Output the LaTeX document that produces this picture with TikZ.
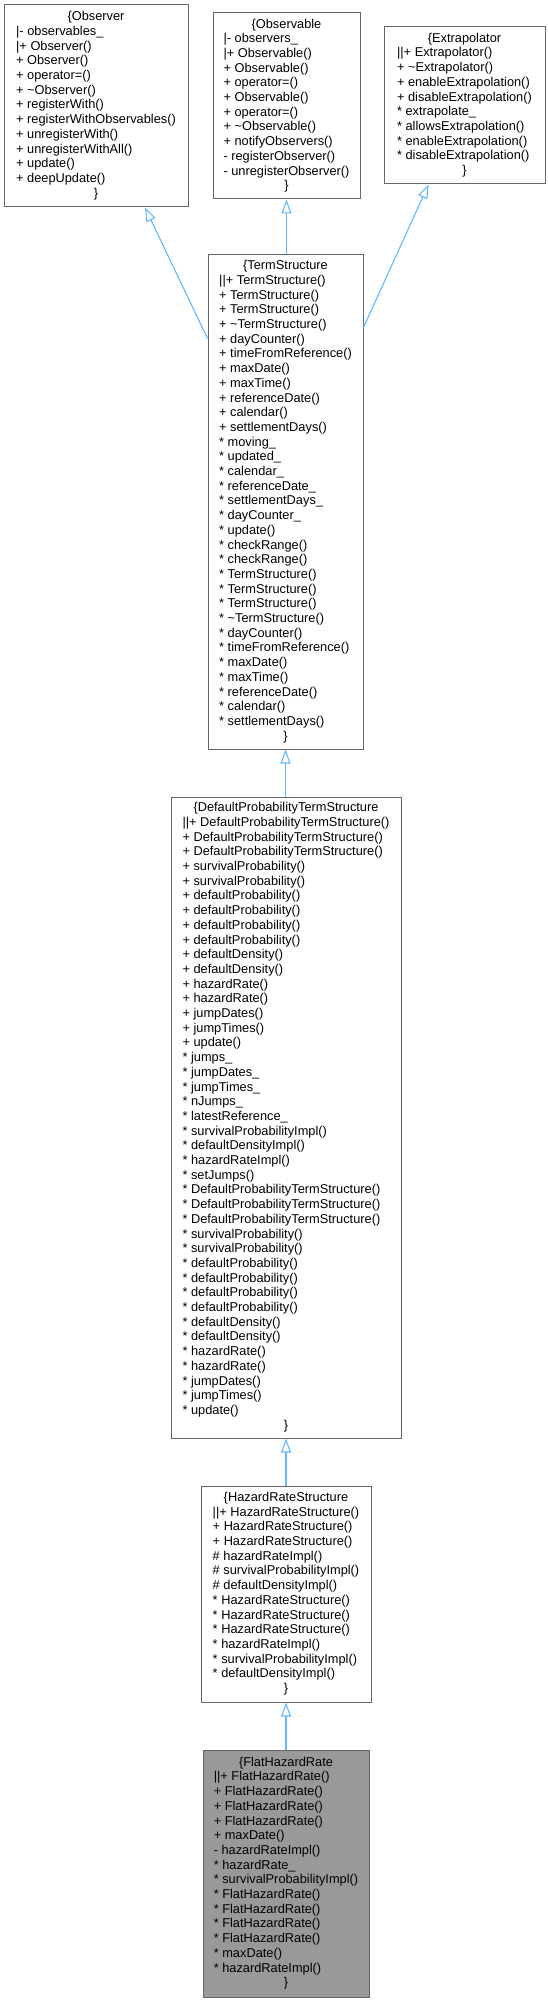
\documentclass[tikz,border=0pt]{standalone}
\usepackage{fontspec}
\setmainfont{Liberation Sans}
\usetikzlibrary{arrows.meta}
\definecolor{boxline}{HTML}{666666}
\definecolor{edgeblue}{HTML}{63B8FF}
\definecolor{curfill}{HTML}{999999}
\newcommand{\hd}[1]{\multicolumn{1}{@{}c@{}}{#1}}
\newcommand{\st}{{*}}
\begin{document}
\begin{tikzpicture}[x=1pt,y=-1pt,
  cls/.style={draw=boxline,line width=1pt,fill=white,rectangle,inner sep=0pt,
    font=\fontsize{12.8}{14.7}\selectfont},
  cur/.style={cls,fill=curfill},
  inh/.style={draw=edgeblue,line width=1.1pt,-{Triangle[open,length=14pt,width=10pt]}}]
\useasboundingbox (0,0) rectangle (548,2001);

\node[cls,minimum width=184pt,minimum height=202pt] (obs) at (96,106) {\begin{tabular}{@{}l@{}}
\hd{\{Observer}\\
|- observables\_\\
|+ Observer()\\
+ Observer()\\
+ operator=()\\
+ \textasciitilde Observer()\\
+ registerWith()\\
+ registerWithObservables()\\
+ unregisterWith()\\
+ unregisterWithAll()\\
+ update()\\
+ deepUpdate()\\
\hd{\}}
\end{tabular}};

\node[cls,minimum width=147pt,minimum height=186pt] (obl) at (286.5,106) {\begin{tabular}{@{}l@{}}
\hd{\{Observable}\\
|- observers\_\\
|+ Observable()\\
+ Observable()\\
+ operator=()\\
+ Observable()\\
+ operator=()\\
+ \textasciitilde Observable()\\
+ notifyObservers()\\
- registerObserver()\\
- unregisterObserver()\\
\hd{\}}
\end{tabular}};

\node[cls,minimum width=161pt,minimum height=157pt] (ext) at (464.5,105.5) {\begin{tabular}{@{}l@{}}
\hd{\{Extrapolator}\\
||+ Extrapolator()\\
+ \textasciitilde Extrapolator()\\
+ enableExtrapolation()\\
+ disableExtrapolation()\\
\st{} extrapolate\_\\
\st{} allowsExtrapolation()\\
\st{} enableExtrapolation()\\
\st{} disableExtrapolation()\\
\hd{\}}
\end{tabular}};

\node[cls,minimum width=155pt,minimum height=494pt] (ts) at (285.5,502) {\begin{tabular}{@{}l@{}}
\hd{\{TermStructure}\\
||+ TermStructure()\\
+ TermStructure()\\
+ TermStructure()\\
+ \textasciitilde TermStructure()\\
+ dayCounter()\\
+ timeFromReference()\\
+ maxDate()\\
+ maxTime()\\
+ referenceDate()\\
+ calendar()\\
+ settlementDays()\\
\st{} moving\_\\
\st{} updated\_\\
\st{} calendar\_\\
\st{} referenceDate\_\\
\st{} settlementDays\_\\
\st{} dayCounter\_\\
\st{} update()\\
\st{} checkRange()\\
\st{} checkRange()\\
\st{} TermStructure()\\
\st{} TermStructure()\\
\st{} TermStructure()\\
\st{} \textasciitilde TermStructure()\\
\st{} dayCounter()\\
\st{} timeFromReference()\\
\st{} maxDate()\\
\st{} maxTime()\\
\st{} referenceDate()\\
\st{} calendar()\\
\st{} settlementDays()\\
\hd{\}}
\end{tabular}};

\node[cls,minimum width=230pt,minimum height=641pt] (dpts) at (286,1117.5) {\begin{tabular}{@{}l@{}}
\hd{\{DefaultProbabilityTermStructure}\\
||+ DefaultProbabilityTermStructure()\\
+ DefaultProbabilityTermStructure()\\
+ DefaultProbabilityTermStructure()\\
+ survivalProbability()\\
+ survivalProbability()\\
+ defaultProbability()\\
+ defaultProbability()\\
+ defaultProbability()\\
+ defaultProbability()\\
+ defaultDensity()\\
+ defaultDensity()\\
+ hazardRate()\\
+ hazardRate()\\
+ jumpDates()\\
+ jumpTimes()\\
+ update()\\
\st{} jumps\_\\
\st{} jumpDates\_\\
\st{} jumpTimes\_\\
\st{} nJumps\_\\
\st{} latestReference\_\\
\st{} survivalProbabilityImpl()\\
\st{} defaultDensityImpl()\\
\st{} hazardRateImpl()\\
\st{} setJumps()\\
\st{} DefaultProbabilityTermStructure()\\
\st{} DefaultProbabilityTermStructure()\\
\st{} DefaultProbabilityTermStructure()\\
\st{} survivalProbability()\\
\st{} survivalProbability()\\
\st{} defaultProbability()\\
\st{} defaultProbability()\\
\st{} defaultProbability()\\
\st{} defaultProbability()\\
\st{} defaultDensity()\\
\st{} defaultDensity()\\
\st{} hazardRate()\\
\st{} hazardRate()\\
\st{} jumpDates()\\
\st{} jumpTimes()\\
\st{} update()\\
\hd{\}}
\end{tabular}};

\node[cls,minimum width=170pt,minimum height=216pt] (hrs) at (286,1594) {\begin{tabular}{@{}l@{}}
\hd{\{HazardRateStructure}\\
||+ HazardRateStructure()\\
+ HazardRateStructure()\\
+ HazardRateStructure()\\
\# hazardRateImpl()\\
\# survivalProbabilityImpl()\\
\# defaultDensityImpl()\\
\st{} HazardRateStructure()\\
\st{} HazardRateStructure()\\
\st{} HazardRateStructure()\\
\st{} hazardRateImpl()\\
\st{} survivalProbabilityImpl()\\
\st{} defaultDensityImpl()\\
\hd{\}}
\end{tabular}};

\node[cur,minimum width=166pt,minimum height=247pt] (fhr) at (286,1873.5) {\begin{tabular}{@{}l@{}}
\hd{\{FlatHazardRate}\\
||+ FlatHazardRate()\\
+ FlatHazardRate()\\
+ FlatHazardRate()\\
+ FlatHazardRate()\\
+ maxDate()\\
- hazardRateImpl()\\
\st{} hazardRate\_\\
\st{} survivalProbabilityImpl()\\
\st{} FlatHazardRate()\\
\st{} FlatHazardRate()\\
\st{} FlatHazardRate()\\
\st{} FlatHazardRate()\\
\st{} maxDate()\\
\st{} hazardRateImpl()\\
\hd{\}}
\end{tabular}};

\draw[inh] ([yshift=-84pt]ts.north west) -- ([xshift=49pt]obs.south);
\draw[inh] (obl.south |- ts.north) -- (obl.south);
\draw[inh] ([yshift=-73pt]ts.north east) -- ([xshift=-36pt]ext.south);
\draw[inh] (ts.south |- dpts.north) -- (ts.south);
\draw[inh] (hrs.north) -- (hrs.north |- dpts.south);
\draw[inh] (fhr.north) -- (fhr.north |- hrs.south);
\end{tikzpicture}
\end{document}
